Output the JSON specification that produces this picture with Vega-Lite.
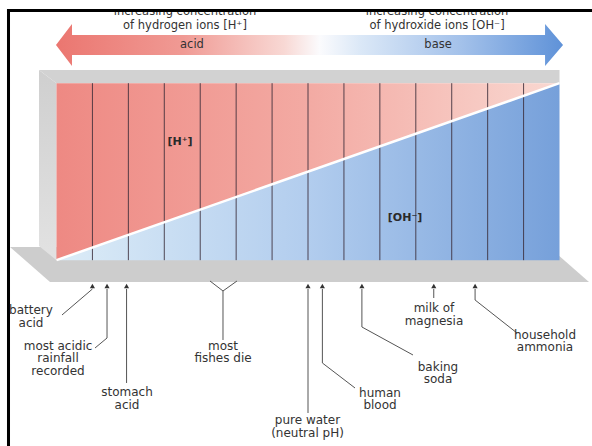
{
  "$schema": "https://vega.github.io/schema/vega-lite/v6.json",
  "width": 592,
  "height": 446,
  "autosize": {"type": "fit", "contains": "padding"},
  "padding": 0,
  "background": "white",
  "config": {"view": {"stroke": null}, "text": {"font": "DejaVu Sans"}},
  "datasets": {
    "shelf": [
      {"ph": -1.294, "v": 0.0746, "v2": 0.0746},
      {"ph": -0.181, "v": -0.1232, "v2": 0.0746},
      {"ph": 13.707, "v": -0.1232, "v2": 0.0746},
      {"ph": 14.82, "v": -0.1232, "v2": -0.1232}
    ],
    "side": [
      {"ph": -0.487, "v": 0.0802, "v2": 1.0746},
      {"ph": 0, "v": 0, "v2": 1}
    ],
    "topface": [
      {"ph": -0.487, "v": 1.0746, "v2": 1.0746},
      {"ph": 0, "v": 1, "v2": 1.0746},
      {"ph": 14, "v": 1, "v2": 1.0746}
    ],
    "hshare": [
      {"ph": 0, "v": 0, "v2": 1},
      {"ph": 14, "v": 1, "v2": 1}
    ],
    "ohshare": [
      {"ph": 0, "v": 0, "v2": 0},
      {"ph": 14, "v": 0, "v2": 1}
    ],
    "units": [
      {"ph": 1, "v": 0, "v2": 1}, {"ph": 2, "v": 0, "v2": 1}, {"ph": 3, "v": 0, "v2": 1},
      {"ph": 4, "v": 0, "v2": 1}, {"ph": 5, "v": 0, "v2": 1}, {"ph": 6, "v": 0, "v2": 1},
      {"ph": 7, "v": 0, "v2": 1}, {"ph": 8, "v": 0, "v2": 1}, {"ph": 9, "v": 0, "v2": 1},
      {"ph": 10, "v": 0, "v2": 1}, {"ph": 11, "v": 0, "v2": 1}, {"ph": 12, "v": 0, "v2": 1},
      {"ph": 13, "v": 0, "v2": 1}
    ],
    "diag": [{"ph": 0, "v": 0, "ph2": 14, "v2": 1}],
    "arrow": [
      {"ph": -0.014, "v": 1.2158, "v2": 1.2158},
      {"ph": 0.431, "v": 1.0971, "v2": 1.3344},
      {"ph": 0.432, "v": 1.1593, "v2": 1.2723},
      {"ph": 13.597, "v": 1.1593, "v2": 1.2723},
      {"ph": 13.598, "v": 1.0971, "v2": 1.3344},
      {"ph": 14.098, "v": 1.2158, "v2": 1.2158}
    ],
    "headings": [
      {"ph": 3.576, "v": 1.3853, "t": "increasing concentration"},
      {"ph": 3.576, "v": 1.3034, "t": "of hydrogen ions [H⁺]"},
      {"ph": 10.59, "v": 1.3853, "t": "increasing concentration"},
      {"ph": 10.59, "v": 1.3034, "t": "of hydroxide ions [OH⁻]"},
      {"ph": 3.77, "v": 1.1988, "t": "acid"},
      {"ph": 10.62, "v": 1.1988, "t": "base"}
    ],
    "frame": [
      {"ph": -1.5725, "ph2": 14.904, "v": 1.4192, "v2": 1.47, "k": "cap"},
      {"ph": -1.378, "ph2": 14.904, "v": 1.4023, "v2": 1.4192, "k": "line"},
      {"ph": -1.378, "ph2": -1.294, "v": -1.05, "v2": 1.4192, "k": "line"}
    ],
    "ions": [
      {"ph": 3.437, "v": 0.668, "t": "[H⁺]"},
      {"ph": 9.7, "v": 0.238, "t": "[OH⁻]"}
    ],
    "ticks": [
      {"ph": 0, "t": "0"}, {"ph": 1, "t": "1"}, {"ph": 2, "t": "2"}, {"ph": 3, "t": "3"},
      {"ph": 4, "t": "4"}, {"ph": 5, "t": "5"}, {"ph": 6, "t": "6"}, {"ph": 7, "t": "7"},
      {"ph": 8, "t": "8"}, {"ph": 9, "t": "9"}, {"ph": 10, "t": "10"}, {"ph": 11, "t": "11"},
      {"ph": 12, "t": "12"}, {"ph": 13, "t": "13"}, {"ph": 14, "t": "14"}
    ],
    "leaders": [
      {"ph": 1.0, "v": -0.1629, "ph2": 0.153, "v2": -0.3098},
      {"ph": 1.406, "v": -0.1629, "ph2": 1.406, "v2": -0.4398},
      {"ph": 1.406, "v": -0.4398, "ph2": 1.072, "v2": -0.4962},
      {"ph": 1.95, "v": -0.1629, "ph2": 1.95, "v2": -0.694},
      {"ph": 4.272, "v": -0.1177, "ph2": 4.634, "v2": -0.1742},
      {"ph": 4.634, "v": -0.1742, "ph2": 5.023, "v2": -0.1177},
      {"ph": 4.634, "v": -0.1742, "ph2": 4.634, "v2": -0.451},
      {"ph": 7.0, "v": -0.1629, "ph2": 7.0, "v2": -0.8635},
      {"ph": 7.4, "v": -0.1629, "ph2": 7.4, "v2": -0.581},
      {"ph": 7.4, "v": -0.581, "ph2": 8.308, "v2": -0.7222},
      {"ph": 8.5, "v": -0.1629, "ph2": 8.5, "v2": -0.3776},
      {"ph": 8.5, "v": -0.3776, "ph2": 9.922, "v2": -0.5358},
      {"ph": 10.5, "v": -0.1629, "ph2": 10.5, "v2": -0.2138},
      {"ph": 11.65, "v": -0.1629, "ph2": 11.65, "v2": -0.2251},
      {"ph": 11.65, "v": -0.2251, "ph2": 12.816, "v2": -0.4115}
    ],
    "substances": [
      {"ph": 1.0, "v": -0.146}, {"ph": 1.406, "v": -0.146}, {"ph": 1.95, "v": -0.146},
      {"ph": 7.0, "v": -0.146}, {"ph": 7.4, "v": -0.146}, {"ph": 8.5, "v": -0.146},
      {"ph": 10.5, "v": -0.146}, {"ph": 11.65, "v": -0.146}
    ],
    "labels": [
      {"ph": -0.71, "v": -0.3042, "t": "battery\nacid"},
      {"ph": 0.042, "v": -0.5075, "t": "most acidic\nrainfall\nrecorded"},
      {"ph": 1.962, "v": -0.7675, "t": "stomach\nacid"},
      {"ph": 4.634, "v": -0.5075, "t": "most\nfishes die"},
      {"ph": 6.986, "v": -0.9257, "t": "pure water\n(neutral pH)"},
      {"ph": 9.004, "v": -0.7731, "t": "human\nblood"},
      {"ph": 10.617, "v": -0.6262, "t": "baking\nsoda"},
      {"ph": 10.506, "v": -0.2929, "t": "milk of\nmagnesia"},
      {"ph": 13.596, "v": -0.4454, "t": "household\nammonia"}
    ]
  },
  "encoding": {
    "x": {"field": "ph", "type": "quantitative", "scale": {"domain": [-1.5725, 14.904], "nice": false, "zero": false}, "axis": null},
    "y": {"field": "v", "type": "quantitative", "scale": {"domain": [-1.05, 1.47], "nice": false, "zero": false}, "axis": null}
  },
  "layer": [
    {
      "data": {"name": "shelf"},
      "mark": {"type": "area", "color": "#cdcdcd", "interpolate": "linear"},
      "encoding": {"y2": {"field": "v2"}}
    },
    {
      "data": {"name": "side"},
      "mark": {"type": "area", "interpolate": "linear", "color": {"gradient": "linear", "x1": 0, "y1": 0, "x2": 0, "y2": 1, "stops": [{"offset": 0, "color": "#cfcfcf"}, {"offset": 1, "color": "#e2e2e2"}]}},
      "encoding": {"y2": {"field": "v2"}}
    },
    {
      "data": {"name": "topface"},
      "mark": {"type": "area", "interpolate": "linear", "color": "#d2d2d2"},
      "encoding": {"y2": {"field": "v2"}}
    },
    {
      "data": {"name": "hshare"},
      "mark": {"type": "area", "interpolate": "linear", "color": {"gradient": "linear", "x1": 0, "y1": 0, "x2": 1, "y2": 0, "stops": [{"offset": 0, "color": "#ee8983"}, {"offset": 0.5, "color": "#f3aaa3"}, {"offset": 1, "color": "#f9d8d1"}]}},
      "encoding": {"y2": {"field": "v2"}}
    },
    {
      "data": {"name": "ohshare"},
      "mark": {"type": "area", "interpolate": "linear", "color": {"gradient": "linear", "x1": 0, "y1": 0, "x2": 1, "y2": 0, "stops": [{"offset": 0, "color": "#dcecf7"}, {"offset": 0.5, "color": "#b2cdee"}, {"offset": 1, "color": "#76a0da"}]}},
      "encoding": {"y2": {"field": "v2"}}
    },
    {
      "data": {"name": "units"},
      "mark": {"type": "rule", "color": "#3a2c38", "strokeWidth": 1, "opacity": 0.85},
      "encoding": {"y2": {"field": "v2"}}
    },
    {
      "data": {"name": "diag"},
      "mark": {"type": "rule", "color": "#ffffff", "strokeWidth": 2.5},
      "encoding": {"x2": {"field": "ph2"}, "y2": {"field": "v2"}}
    },
    {
      "data": {"name": "arrow"},
      "mark": {"type": "area", "interpolate": "linear", "color": {"gradient": "linear", "x1": 0, "y1": 0, "x2": 1, "y2": 0, "stops": [{"offset": 0, "color": "#eb7670"}, {"offset": 0.25, "color": "#f09a94"}, {"offset": 0.45, "color": "#f8d8d4"}, {"offset": 0.52, "color": "#fbfbfd"}, {"offset": 0.6, "color": "#dbe8f7"}, {"offset": 0.8, "color": "#a3c1ea"}, {"offset": 1, "color": "#5f92d8"}]}},
      "encoding": {"y2": {"field": "v2"}}
    },
    {
      "data": {"name": "headings"},
      "mark": {"type": "text", "fontSize": 11.5, "color": "#333333", "align": "center", "baseline": "alphabetic"},
      "encoding": {"text": {"field": "t"}}
    },
    {
      "data": {"name": "frame"},
      "mark": {"type": "rect"},
      "encoding": {
        "x2": {"field": "ph2"},
        "y2": {"field": "v2"},
        "color": {"field": "k", "type": "nominal", "scale": {"domain": ["cap", "line"], "range": ["#ffffff", "#000000"]}, "legend": null}
      }
    },
    {
      "data": {"name": "ions"},
      "mark": {"type": "text", "fontSize": 11, "fontWeight": "bold", "color": "#2a2a2a", "align": "center", "baseline": "middle"},
      "encoding": {"text": {"field": "t"}}
    },
    {
      "data": {"name": "ticks"},
      "mark": {"type": "text", "fontSize": 12, "color": "#4a4a4a", "align": "center", "baseline": "middle"},
      "encoding": {"y": {"datum": -0.0723}, "text": {"field": "t"}}
    },
    {
      "data": {"name": "leaders"},
      "mark": {"type": "rule", "color": "#555555", "strokeWidth": 1},
      "encoding": {"x2": {"field": "ph2"}, "y2": {"field": "v2"}}
    },
    {
      "data": {"name": "substances"},
      "mark": {"type": "point", "shape": "triangle-up", "filled": true, "size": 26, "color": "#333333", "opacity": 1},
      "encoding": {}
    },
    {
      "data": {"name": "labels"},
      "mark": {"type": "text", "fontSize": 12, "color": "#333333", "align": "center", "baseline": "alphabetic", "lineBreak": "\n", "lineHeight": 12.5},
      "encoding": {"text": {"field": "t"}}
    }
  ]
}
